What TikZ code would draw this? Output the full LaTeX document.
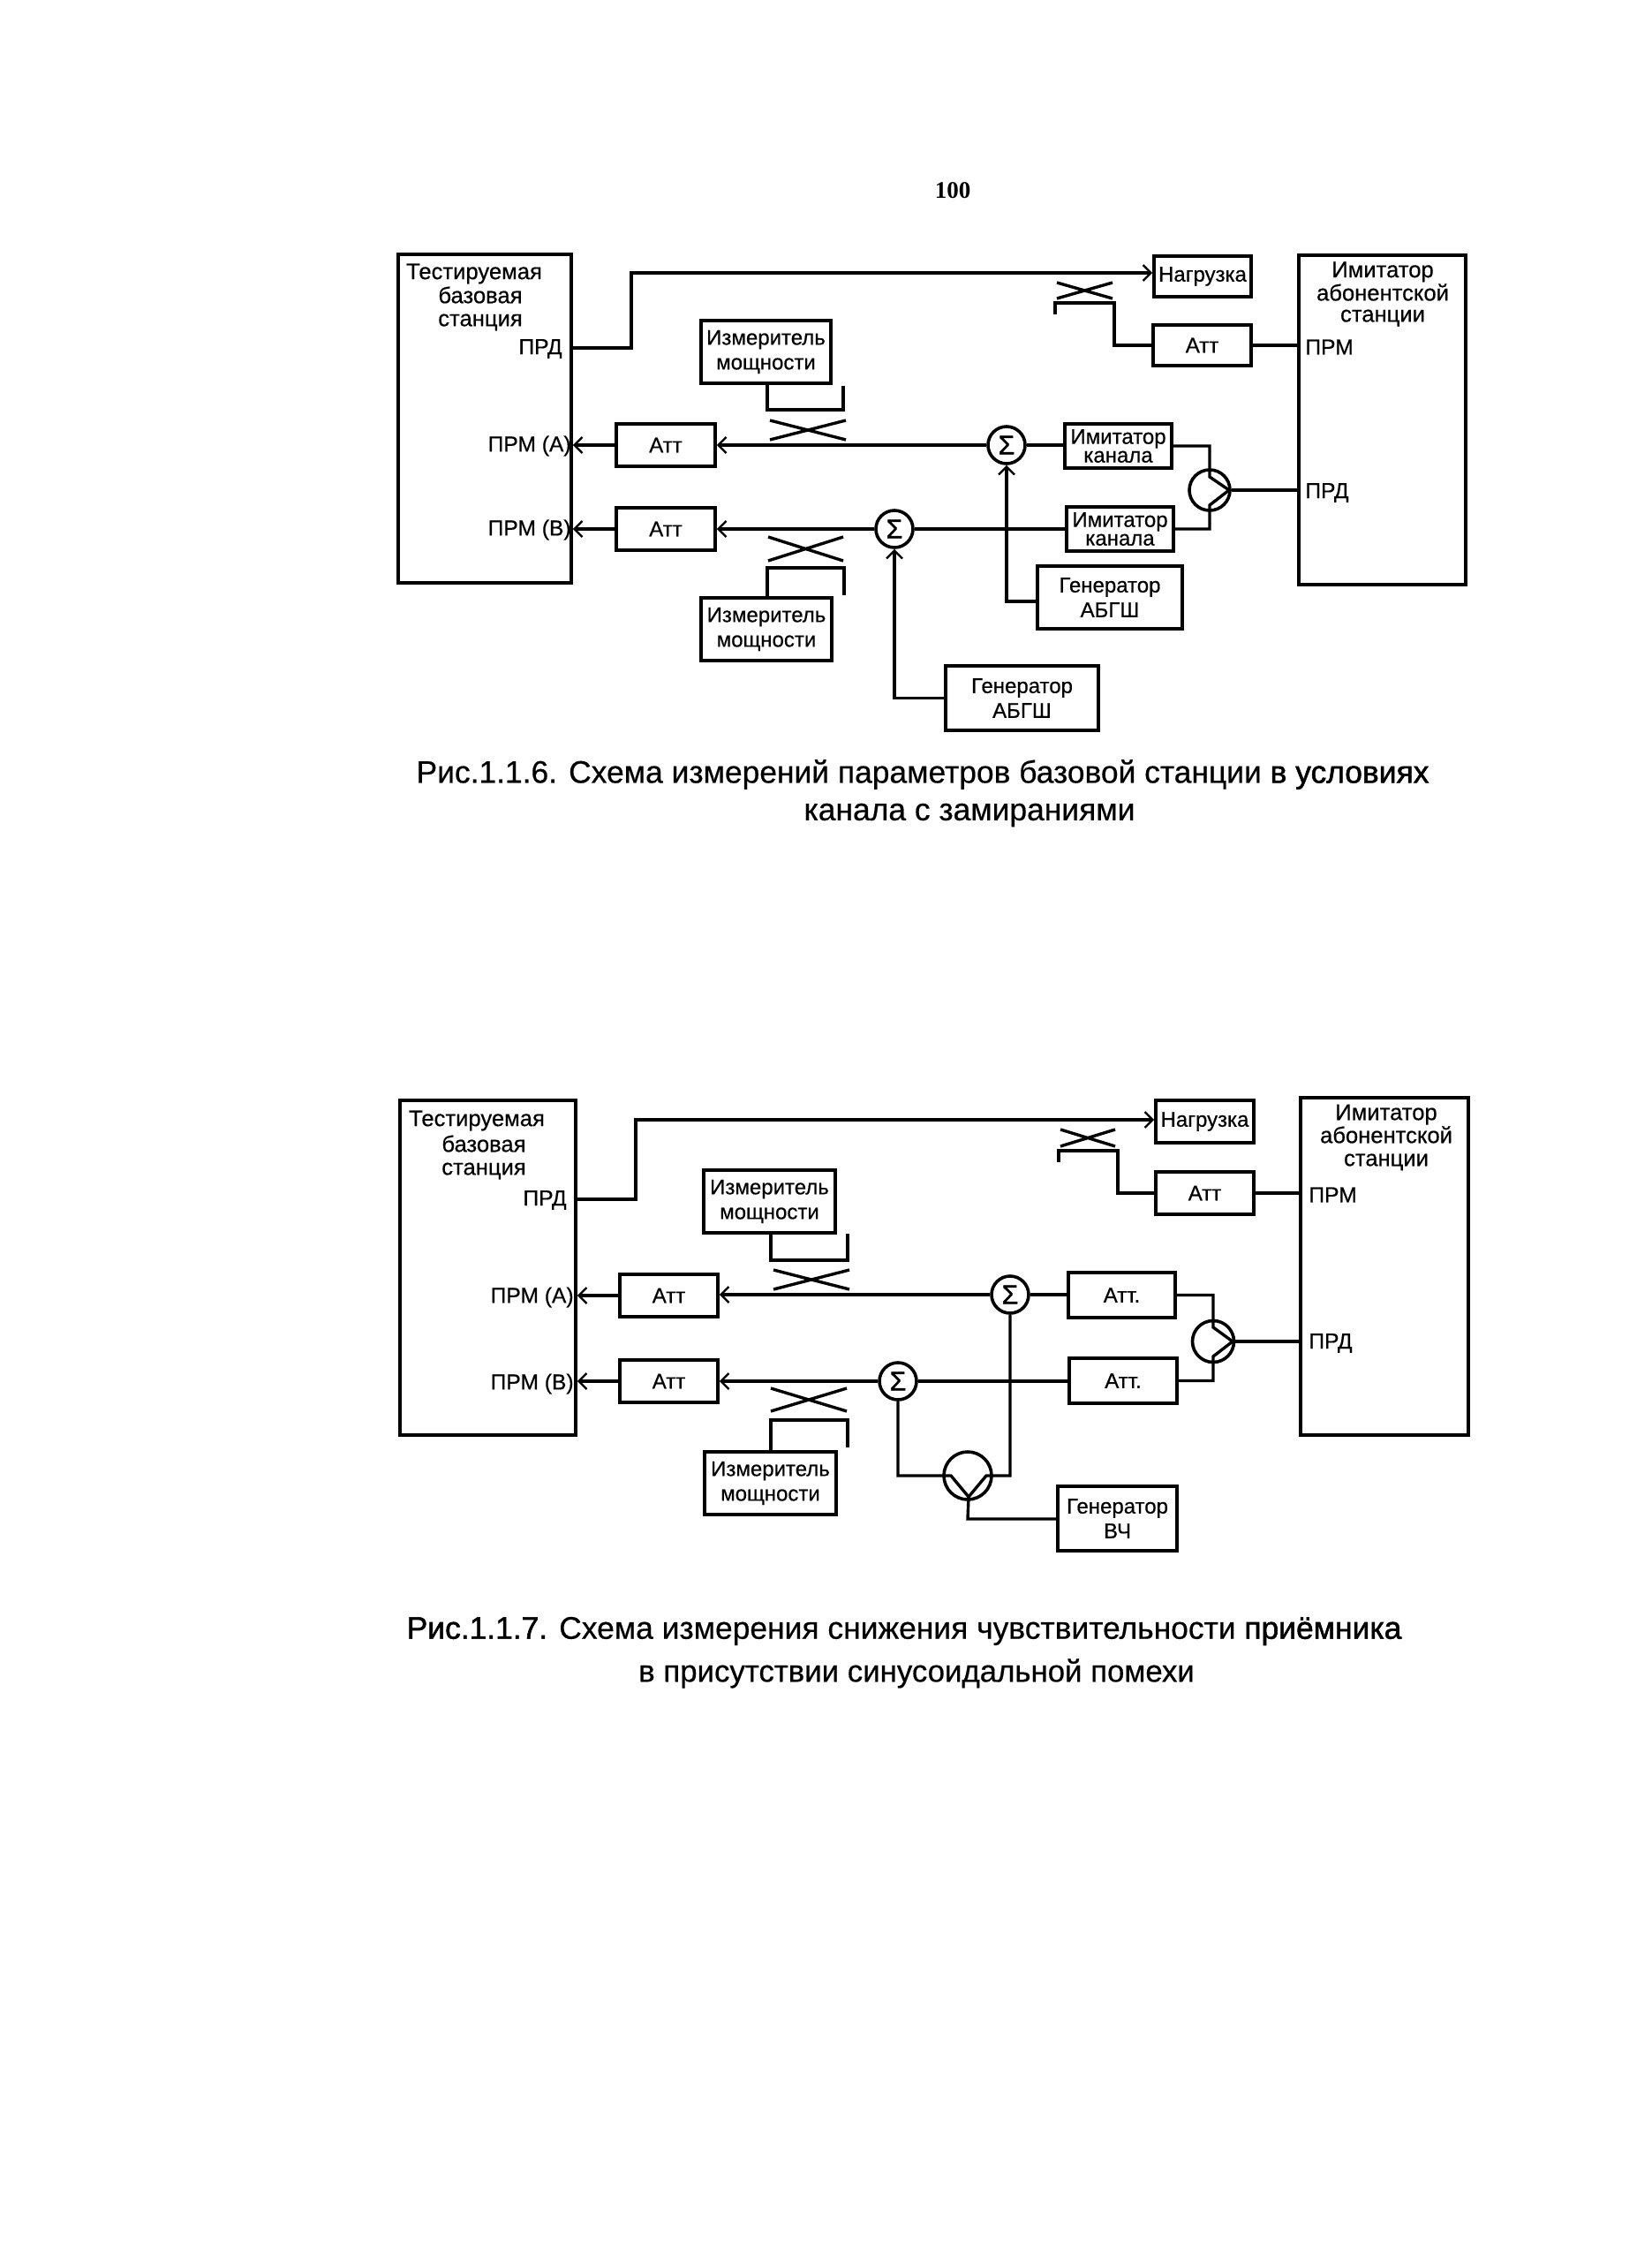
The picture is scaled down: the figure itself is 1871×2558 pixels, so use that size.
\documentclass[tikz,border=0pt]{standalone}
\usepackage{fontspec}
\setmainfont{Liberation Sans}[FakeBold=0.5]
\newfontfamily\pagefont{Liberation Serif}
\newfontfamily\heavyf{Liberation Sans}[FakeBold=1.5]
\usetikzlibrary{arrows.meta}
\tikzset{
  x=0.5pt,y=-0.5pt,
  ln/.style={line width=1.7pt,line join=miter,black},
  arr/.style={ln,-{Straight Barb[length=4.5pt,width=9pt,line width=1.2pt]}},
  bxs/.style={draw,line width=1.8pt,inner sep=0pt,align=center,font=\fontsize{12}{14}\selectfont},
  tight/.style={font=\fontsize{12}{10.5}\selectfont},
  lab/.style={inner sep=0pt,align=center,font=\fontsize{12.3}{14}\selectfont},
  hd/.style={inner sep=0pt,align=center,font=\fontsize{12.8}{14}\selectfont},
  big/.style={draw,line width=1.8pt,inner sep=0pt},
  sumn/.style={draw,circle,line width=1.8pt,inner sep=0pt,minimum size=21pt,font=\heavyf\fontsize{15}{15}\selectfont},
  caption/.style={inner sep=0pt,align=center,font=\fontsize{17.7}{24}\selectfont},
}
\newcommand{\bx}[7][bxs]{\node[#1,minimum width={(#5-#3)*0.5pt},minimum height={(#6-#4)*0.5pt}] (#2) at ({(#3+#5)/2},{(#4+#6)/2}) {#7};}
\newcommand{\crs}[4]{\draw[ln] (#1,#2) -- (#3,#4) (#1,#4) -- (#3,#2);}
\begin{document}
\begin{tikzpicture}
\useasboundingbox (0,0) rectangle (1871,2558);
\node[inner sep=0pt,font=\pagefont\bfseries\fontsize{13.5}{13.5}\selectfont] (pg) at (1079,216) {100};
% ---------- Fig 1.1.6
\bx[big]{bsa}{451}{288}{647}{660}{}
\bx[big]{ima}{1471}{289}{1660}{662}{}
\node[hd] (bsat) at (537,310) {Тестируемая};
\node[hd] (bsat2) at (544,334) {базовая};
\node[hd] (bsat3) at (544,365) {станция};
\node[lab,anchor=east] (bsap) at (637,395) {ПРД};
\node[lab,anchor=east] (bsaa) at (647,505) {ПРМ (А)};
\node[lab,anchor=east] (bsab) at (647,600) {ПРМ (В)};
\node[hd,font=\fontsize{12.8}{12}\selectfont] (imat) at (1566,333) {Имитатор\\абонентской\\станции};
\node[lab,anchor=west] (imap) at (1478,393) {ПРМ};
\node[lab,anchor=west] (imad) at (1478,558) {ПРД};
\bx{nga}{1307}{290}{1417}{336}{Нагрузка}
\bx{att0a}{1306}{368}{1417}{414}{Атт}
\bx{attAa}{698}{480}{810}{528}{Атт}
\bx{attBa}{698}{575}{810}{623}{Атт}
\bx{mea}{794}{363}{941}{434}{Измеритель\\мощности}
\bx{meb}{794}{677}{942}{748}{Измеритель\\мощности}
\bx[bxs,tight]{ica}{1206}{480}{1327}{530}{Имитатор\\канала}
\bx[bxs,tight]{icb}{1208}{574}{1329}{624}{Имитатор\\канала}
\bx{gna}{1175}{641}{1339}{712}{Генератор\\АБГШ}
\bx{gnb}{1071}{754}{1244}{827}{Генератор\\АБГШ}
\node[sumn] (sa) at (1140,504) {Σ};
\node[sumn] (sb) at (1013,599) {Σ};
\node[sumn,minimum size=23pt] (spa) at (1370,555) {};
% connectors
\coordinate (c1) at (715,394);
\coordinate (c2) at (715,309);
\coordinate (c3) at (1195,356);
\coordinate (c4) at (1195,343);
\coordinate (c5) at (1262,343);
\coordinate (c6) at (955,437);
\coordinate (c7) at (955,464);
\coordinate (c8) at (869,464);
\coordinate (c9) at (956,674);
\coordinate (c10) at (956,643);
\coordinate (c11) at (869,643);
\coordinate (c12) at (1392,555);
\coordinate (c13) at (1370,540);
\coordinate (c14) at (1370,572);
\draw[arr] (c1 -| bsa.east) -- (c1) -- (c2) -- (c2 -| nga.west);
\draw[ln] (c3) -- (c4) -- (c5) |- (att0a.west);
\draw[ln] (att0a.east) -- (att0a.east -| ima.west);
\crs{1197}{320}{1260}{338}
\draw[arr] (attAa.west) -- (attAa.west -| bsa.east);
\draw[arr] (attBa.west) -- (attBa.west -| bsa.east);
\draw[arr] (sa.west) -- (sa.west -| attAa.east);
\draw[arr] (sb.west) -- (sb.west -| attBa.east);
\draw[ln] (ica.west |- sa.east) -- (sa.east);
\draw[ln] (sb.east) -- (sb.east -| icb.west);
\draw[arr] (gna.west |- 0,681) -| (sa.south);
\draw[arr] (gnb.west) -| (sb.south);
\draw[ln] (c8 |- mea.south) -- (c8) -- (c7) -- (c6);
\draw[ln] (c11 |- meb.north) -- (c11) -- (c10) -- (c9);
\crs{872}{476}{958}{498}
\crs{870}{608}{955}{635}
\draw[ln] (ica.east) -| (c13) -- (c12);
\draw[ln] (icb.east) -| (c14) -- (c12);
\draw[ln] (spa.east) -- (spa.east -| ima.west);
\node[caption] (capa) at (1045,877) {Рис.1.1.6. Схема измерений параметров базовой станции {\heavyf в условиях}};
\node[caption] (capa2) at (1098,923) {канала с замираниями};
% ---------- Fig 1.1.7
\bx[big]{bsb}{453}{1246}{652}{1625}{}
\bx[big]{imb}{1473}{1243}{1663}{1625}{}
\node[hd] (bsbt) at (540,1269) {Тестируемая};
\node[hd] (bsbt2) at (548,1295) {базовая};
\node[hd] (bsbt3) at (548,1326) {станция};
\node[lab,anchor=east] (bsbp) at (642,1359) {ПРД};
\node[lab,anchor=east] (bsba) at (650,1469) {ПРМ (А)};
\node[lab,anchor=east] (bsbb) at (650,1567) {ПРМ (В)};
\node[hd,font=\fontsize{12.8}{13}\selectfont] (imbt) at (1570,1288) {Имитатор\\абонентской\\станции};
\node[lab,anchor=west] (imbp) at (1482,1353) {ПРМ};
\node[lab,anchor=west] (imbd) at (1482,1521) {ПРД};
\bx{ngb}{1309}{1246}{1420}{1294}{Нагрузка}
\bx{att0b}{1309}{1327}{1420}{1375}{Атт}
\bx{attAb}{702}{1443}{813}{1491}{Атт}
\bx{attBb}{702}{1540}{813}{1588}{Атт}
\bx{mec}{797}{1325}{946}{1396}{Измеритель\\мощности}
\bx{med}{798}{1644}{947}{1715}{Измеритель\\мощности}
\bx{at1}{1210}{1441}{1331}{1492}{Атт.}
\bx{at2}{1211}{1538}{1333}{1589}{Атт.}
\bx{gnc}{1198}{1683}{1333}{1756}{Генератор\\ВЧ}
\node[sumn] (sc) at (1144,1466) {Σ};
\node[sumn] (sd) at (1017,1564) {Σ};
\node[sumn,minimum size=23.5pt] (spb) at (1374,1519) {};
\node[sumn,minimum size=27pt] (hyb) at (1096,1671) {};
\coordinate (d1) at (720,1358);
\coordinate (d2) at (720,1268);
\coordinate (d3) at (1199,1316);
\coordinate (d4) at (1199,1303);
\coordinate (d5) at (1266,1303);
\coordinate (d6) at (960,1397);
\coordinate (d7) at (960,1427);
\coordinate (d8) at (873,1427);
\coordinate (d9) at (960,1639);
\coordinate (d10) at (960,1608);
\coordinate (d11) at (873,1608);
\coordinate (d12) at (1396,1519);
\coordinate (d13) at (1096,1720);
\coordinate (d14) at (1374,1503);
\coordinate (d15) at (1374,1536);
\coordinate (e1) at (1077,1671);
\coordinate (e2) at (1097,1695);
\coordinate (e3) at (1117,1671);
\draw[arr] (d1 -| bsb.east) -- (d1) -- (d2) -- (d2 -| ngb.west);
\draw[ln] (d3) -- (d4) -- (d5) |- (att0b.west);
\draw[ln] (att0b.east) -- (att0b.east -| imb.west);
\crs{1201}{1279}{1263}{1298}
\draw[arr] (attAb.west) -- (attAb.west -| bsb.east);
\draw[arr] (attBb.west) -- (attBb.west -| bsb.east);
\draw[arr] (sc.west) -- (sc.west -| attAb.east);
\draw[arr] (sd.west) -- (sd.west -| attBb.east);
\draw[ln] (sc.east) -- (sc.east -| at1.west);
\draw[ln] (sd.east) -- (sd.east -| at2.west);
\draw[ln] (d8 |- mec.south) -- (d8) -- (d7) -- (d6);
\draw[ln] (d11 |- med.north) -- (d11) -- (d10) -- (d9);
\crs{876}{1438}{962}{1460}
\crs{873}{1572}{959}{1598}
\draw[ln] (at1.east) -| (d14) -- (d12);
\draw[ln] (at2.east) -| (d15) -- (d12);
\draw[ln] (spb.east) -- (spb.east -| imb.west);
\draw[ln] (sd.south) |- (e1) -- (e2) -- (e3) -| (sc.south);
\draw[ln] (e2) -- (d13) -- (d13 -| gnc.west);
\node[caption] (capb) at (1024,1847) {{\heavyf Рис.1.1.7.} Схема измерения снижения чувствительности {\heavyf приёмника}};
\node[caption,font=\fontsize{17.4}{24}\selectfont] (capb2) at (1038,1895) {в присутствии синусоидальной помехи};
\end{tikzpicture}
\end{document}
